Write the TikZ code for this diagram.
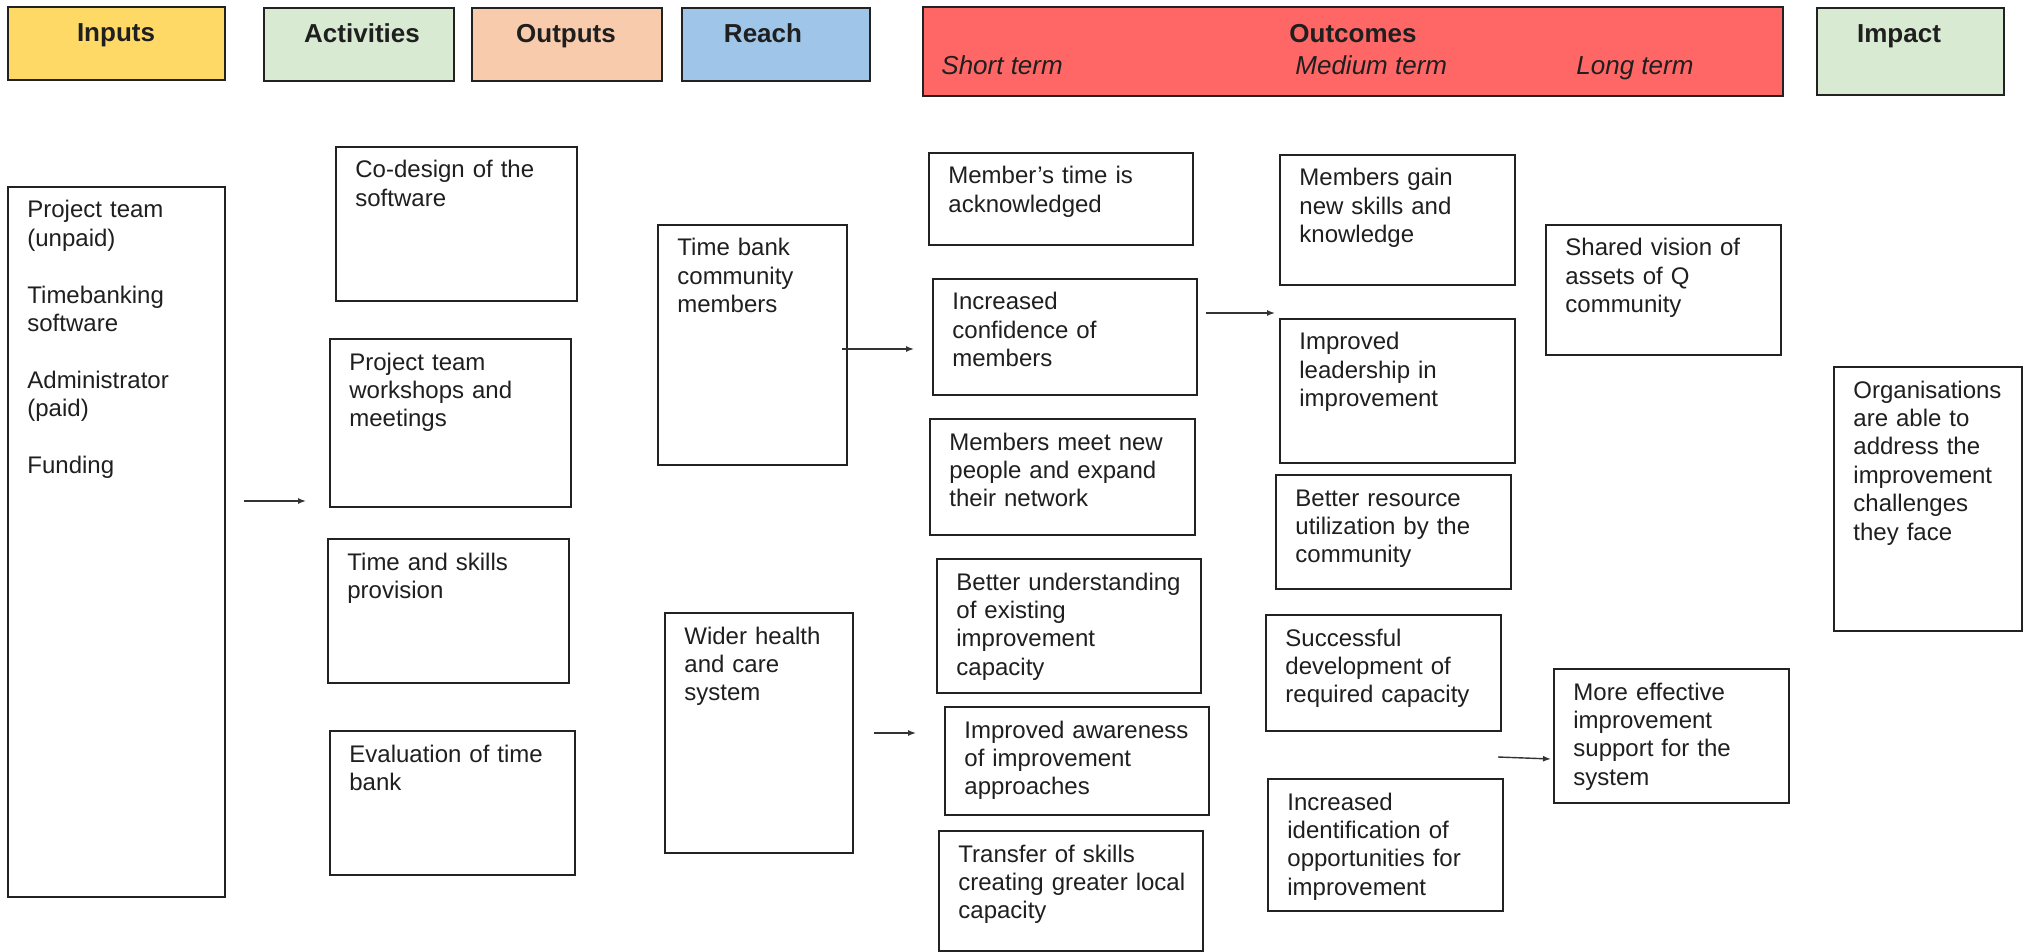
\documentclass[tikz,border=0pt]{standalone}
\usepackage{fontspec}
\setmainfont{Liberation Sans}
\usetikzlibrary{fit,arrows.meta}
\definecolor{cIn}{HTML}{FFD966}
\definecolor{cAct}{HTML}{D9EAD3}
\definecolor{cOut}{HTML}{F8CBAD}
\definecolor{cReach}{HTML}{9FC5E8}
\definecolor{cOutc}{HTML}{FF6666}
\definecolor{cImp}{HTML}{D9EAD3}
\definecolor{boxc}{HTML}{222222}
\definecolor{txtc}{HTML}{1F1F1F}
\definecolor{arrc}{HTML}{333333}
\tikzset{
  box/.style={draw=boxc, line width=1pt, inner sep=0pt},
  txt/.style={font=\fontsize{12}{14.2}\selectfont, text=txtc, align=left, text width=300pt, inner sep=0pt, anchor=base west},
  hd/.style={font=\fontsize{13}{15}\selectfont\bfseries, text=txtc, inner sep=0pt, anchor=base},
  subhd/.style={font=\fontsize{13}{15}\selectfont\itshape, text=txtc, inner sep=0pt, anchor=base west},
  arr/.style={draw=arrc, line width=0.7pt, -{Latex[length=4pt,width=3pt]}},
}
\newcommand\bxt[6]{%
  \path (#2,#3) coordinate (#1-nw) (#4,#5) coordinate (#1-se);
  \node[box, fit=(#1-nw)(#1-se)] (#1) {};
  \node[txt] (#1-t) at ([xshift=9.5pt,yshift=-15.5pt]#1-nw) {#6};}
\newcommand\hbx[6]{%
  \path (#2,#3) coordinate (#1-nw) (#4,#5) coordinate (#1-se);
  \node[box, fill=#6, fit=(#1-nw)(#1-se)] (#1) {};}
\begin{document}
\begin{tikzpicture}[x=0.5pt,y=-0.5pt]
\useasboundingbox[fill=white] (0,0) rectangle (2024,952);
% headers
\hbx{hIn}{8}{7}{225}{80}{cIn}
\hbx{hAct}{264}{8}{454}{81}{cAct}
\hbx{hOut}{472}{8}{662}{81}{cOut}
\hbx{hReach}{682}{8}{870}{81}{cReach}
\hbx{hOutc}{923}{7}{1783}{96}{cOutc}
\hbx{hImp}{1817}{8}{2004}{95}{cImp}
\node[hd] (tIn) at (116,42) {Inputs};
\node[hd] (tAct) at (362,43) {Activities};
\node[hd] (tOut) at (566,43) {Outputs};
\node[hd] (tReach) at (763,43) {Reach};
\node[hd] (tOutc) at (1353,43) {Outcomes};
\node[hd] (tImp) at (1899,43) {Impact};
\node[subhd] (tShort) at (941,75) {Short term};
\node[subhd] (tMed) at (1295,75) {Medium term};
\node[subhd] (tLong) at (1576,75) {Long term};
% inputs
\bxt{inp}{8}{187}{225}{897}{Project team\\(unpaid)\\[14.2pt]Timebanking\\software\\[14.2pt]Administrator\\(paid)\\[14.2pt]Funding}
% activities
\bxt{act1}{336}{147}{577}{301}{Co-design of the\\software}
\bxt{act2}{330}{339}{571}{507}{Project team\\workshops and\\meetings}
\bxt{act3}{328}{539}{569}{683}{Time and skills\\provision}
\bxt{act4}{330}{731}{575}{875}{Evaluation of time\\bank}
% reach
\bxt{r1}{658}{225}{847}{465}{Time bank\\community\\members}
\bxt{r2}{665}{613}{853}{853}{Wider health\\and care\\system}
% short term
\bxt{s1}{929}{153}{1193}{245}{Member’s time is\\acknowledged}
\bxt{s2}{933}{279}{1197}{395}{Increased\\confidence of\\members}
\bxt{s3}{930}{419}{1195}{535}{Members meet new\\people and expand\\their network}
\bxt{s4}{937}{559}{1201}{693}{Better understanding\\of existing\\improvement\\capacity}
\bxt{s5}{945}{707}{1209}{815}{Improved awareness\\of improvement\\approaches}
\bxt{s6}{939}{831}{1203}{951}{Transfer of skills\\creating greater local\\capacity}
% medium term
\bxt{m1}{1280}{155}{1515}{285}{Members gain\\new skills and\\knowledge}
\bxt{m2}{1280}{319}{1515}{463}{Improved\\leadership in\\improvement}
\bxt{m3}{1276}{475}{1511}{589}{Better resource\\utilization by the\\community}
\bxt{m4}{1266}{615}{1501}{731}{Successful\\development of\\required capacity}
\bxt{m5}{1268}{779}{1503}{911}{Increased\\identification of\\opportunities for\\improvement}
% long term
\bxt{l1}{1546}{225}{1781}{355}{Shared vision of\\assets of Q\\community}
\bxt{l2}{1554}{669}{1789}{803}{More effective\\improvement\\support for the\\system}
% impact
\bxt{imp}{1834}{367}{2022}{631}{Organisations\\are able to\\address the\\improvement\\challenges\\they face}
% arrows
\coordinate (a1s) at (244,501); \coordinate (a1e) at (306,501);
\coordinate (a2s) at (842,349); \coordinate (a2e) at (914,349);
\coordinate (a3s) at (874,733); \coordinate (a3e) at (916,733);
\coordinate (a4s) at (1206,313); \coordinate (a4e) at (1275,313);
\coordinate (a5s) at (1498,757); \coordinate (a5e) at (1551,759);
\draw[arr] (a1s) -- (a1e);
\draw[arr] (a2s) -- (a2e);
\draw[arr] (a3s) -- (a3e);
\draw[arr] (a4s) -- (a4e);
\draw[arr] (a5s) -- (a5e);
\end{tikzpicture}
\end{document}
